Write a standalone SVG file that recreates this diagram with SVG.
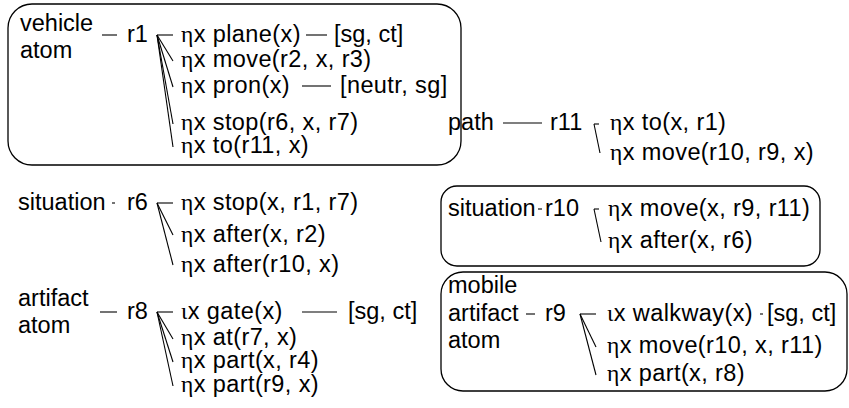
<svg xmlns="http://www.w3.org/2000/svg" width="849" height="408" viewBox="0 0 849 408">
<style>
text{font-family:"Liberation Sans",Arial,sans-serif;font-size:23.5px;fill:#000}
.c{letter-spacing:0.4px}
.g{font-family:"Liberation Serif","Times New Roman",serif}
.box{fill:none;stroke:#000;stroke-width:1.3}
#connectors line{stroke:#000;stroke-width:1.1}
</style>
<rect width="849" height="408" fill="#fff"/>
<g id="box-r1"><rect class="box" x="8" y="4" width="453" height="161" rx="24" ry="24"/></g>
<g id="box-r10"><rect class="box" x="441" y="186" width="379" height="80" rx="16" ry="16"/></g>
<g id="box-r9"><rect class="box" x="441" y="272" width="406" height="119" rx="22" ry="22"/></g>

<g id="node-r1">
<text x="20" y="31">vehicle</text>
<text x="20" y="58">atom</text>
<text x="127" y="42">r1</text>
</g>
<g id="r1-conds">
<text class="c" x="181" y="42"><tspan class="g">η</tspan>x plane(x)</text>
<text x="334" y="42">[sg, ct]</text>
<text class="c" x="181" y="67"><tspan class="g">η</tspan>x move(r2, x, r3)</text>
<text class="c" x="181" y="93"><tspan class="g">η</tspan>x pron(x)</text>
<text class="c" x="340" y="93">[neutr, sg]</text>
<text class="c" x="181" y="130"><tspan class="g">η</tspan>x stop(r6, x, r7)</text>
<text class="c" x="181" y="153"><tspan class="g">η</tspan>x to(r11, x)</text>
</g>

<g id="node-r11">
<text x="448" y="130">path</text>
<text x="550" y="130">r11</text>
<text class="c" x="610" y="130"><tspan class="g">η</tspan>x to(x, r1)</text>
<text class="c" x="610" y="160"><tspan class="g">η</tspan>x move(r10, r9, x)</text>
</g>

<g id="node-r6">
<text x="18" y="210">situation</text>
<text x="127" y="210">r6</text>
<text class="c" x="181" y="210"><tspan class="g">η</tspan>x stop(x, r1, r7)</text>
<text class="c" x="181" y="242"><tspan class="g">η</tspan>x after(x, r2)</text>
<text class="c" x="181" y="272"><tspan class="g">η</tspan>x after(r10, x)</text>
</g>

<g id="node-r8">
<text x="18" y="306">artifact</text>
<text x="18" y="333">atom</text>
<text x="127" y="319">r8</text>
<text class="c" x="181" y="319"><tspan class="g">ι</tspan>x gate(x)</text>
<text x="348" y="319">[sg, ct]</text>
<text class="c" x="181" y="345"><tspan class="g">η</tspan>x at(r7, x)</text>
<text class="c" x="181" y="368"><tspan class="g">η</tspan>x part(x, r4)</text>
<text class="c" x="181" y="392"><tspan class="g">η</tspan>x part(r9, x)</text>
</g>

<g id="node-r10">
<text x="448" y="216">situation</text>
<text x="545" y="216">r10</text>
<text class="c" x="608" y="216"><tspan class="g">η</tspan>x move(x, r9, r11)</text>
<text class="c" x="608" y="248"><tspan class="g">η</tspan>x after(x, r6)</text>
</g>

<g id="node-r9">
<text x="448" y="293">mobile</text>
<text x="448" y="321">artifact</text>
<text x="448" y="348">atom</text>
<text x="545" y="321">r9</text>
<text class="c" x="607" y="321"><tspan class="g">ι</tspan>x walkway(x)</text>
<text x="767" y="321">[sg, ct]</text>
<text class="c" x="607" y="353"><tspan class="g">η</tspan>x move(r10, x, r11)</text>
<text class="c" x="607" y="381"><tspan class="g">η</tspan>x part(x, r8)</text>
</g>

<g id="connectors">
<line x1="102" y1="35" x2="117" y2="35"/>
<line x1="157" y1="35" x2="173" y2="35"/>
<line x1="157" y1="35" x2="173" y2="61"/>
<line x1="157" y1="35" x2="173" y2="87"/>
<line x1="157" y1="35" x2="173" y2="124"/>
<line x1="157" y1="35" x2="173" y2="147"/>
<line x1="306" y1="35" x2="327" y2="35"/>
<line x1="302" y1="86" x2="331" y2="86"/>
<line x1="503" y1="123" x2="542" y2="123"/>
<line x1="594" y1="124" x2="599" y2="124"/>
<line x1="594" y1="124" x2="600" y2="153"/>
<line x1="112" y1="203" x2="115" y2="203"/>
<line x1="157" y1="203" x2="173" y2="203"/>
<line x1="157" y1="203" x2="173" y2="235"/>
<line x1="157" y1="203" x2="173" y2="265"/>
<line x1="100" y1="312" x2="117" y2="312"/>
<line x1="157" y1="312" x2="173" y2="312"/>
<line x1="157" y1="312" x2="173" y2="339"/>
<line x1="157" y1="312" x2="173" y2="362"/>
<line x1="157" y1="312" x2="173" y2="386"/>
<line x1="302" y1="312" x2="337" y2="312"/>
<line x1="538" y1="209" x2="542" y2="209"/>
<line x1="594" y1="209" x2="599" y2="209"/>
<line x1="594" y1="209" x2="601" y2="242"/>
<line x1="526" y1="314" x2="535" y2="314"/>
<line x1="580" y1="314" x2="596" y2="314"/>
<line x1="580" y1="314" x2="596" y2="347"/>
<line x1="580" y1="314" x2="596" y2="375"/>
<line x1="760" y1="314" x2="763" y2="314"/>
</g>
</svg>
